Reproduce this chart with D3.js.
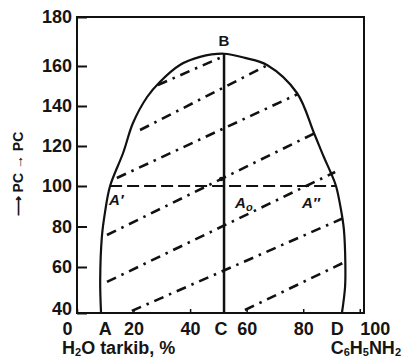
<!DOCTYPE html>
<html>
<head>
<meta charset="utf-8">
<script src="https://cdn.jsdelivr.net/npm/d3@7"></script>
<style>
  body { margin: 0; background: #fff; }
  svg text { font-family: "Liberation Sans", Arial, sans-serif; font-weight: bold; fill: #151515; }
</style>
</head>
<body>
<div id="chart"></div>
<script>
// water / aniline solubility diagram
const xTicks = [0, 20, 40, 60, 80, 100]
const yTicks = [40, 60, 80, 100, 120, 140, 160, 180]

// the dome (left branch -> top -> right branch)
const curveComp = [8.5, 8.2, 8.8, 9.9, 11.7, 16.3, 19.8, 24.8, 29.3, 36.4, 43.5, 52, 59.4, 67.2, 77.8, 83.8, 87.3, 89.8, 91.6, 93.4, 94.4, 94.9, 94.8, 93.7]
const curveTemp = [40, 54, 75, 87, 100, 116.5, 131.5, 144.5, 152, 160.4, 163.7, 165, 163.3, 160.4, 146.5, 126.5, 114.5, 106.5, 100, 88, 78.3, 62, 51.3, 40]

// dash-dot tie lines, [composition, temperature]
const tieStart = [[28.6, 150.5], [22.3, 128], [14.1, 104], [10.6, 75.8], [10.6, 53.5], [19.4, 40.9], [59.4, 41.3]]
const tieEnd   = [[51.3, 163.7], [66.8, 160], [78.1, 146], [84.2, 126.5], [91.3, 107], [94.3, 84.2], [94.8, 62.5]]

const pointNames = ["A", "C", "D"]
const pointComp = [10, 52, 92]
const critComp = 52, critTemp = 165          // B
const splitTemp = 100, splitLeft = 11.7, splitRight = 91.6   // A' ... A''
const dotPoint = [51, 103.5]

document.addEventListener('DOMContentLoaded', function () {
  const W = 402, H = 357

  const svg = d3.select("#chart").append("svg")
    .attr("width", W)
    .attr("height", H)

  const xScale = d3.scaleLinear()
    .domain([0, 101.5])
    .range([77, 364])

  // the scan is a bit stretched near the top, so a few stops
  const yScale = d3.scaleLinear()
    .domain([40, 60, 100, 160, 180])
    .range([313, 267, 186, 66, 17])

  // frame
  svg.append("rect")
    .attr("x", xScale(0)).attr("y", yScale(180))
    .attr("width", xScale(101.5) - xScale(0))
    .attr("height", yScale(40) - yScale(180))
    .attr("fill", "none").attr("stroke", "#111").attr("stroke-width", 2)

  // y axis, ticks point inside
  const yAxis = d3.axisLeft(yScale)
    .tickValues(yTicks)
    .tickSizeInner(-10).tickSizeOuter(0).tickPadding(5)
  const gy = svg.append("g")
    .attr("transform", "translate(" + xScale(0) + ",0)")
    .call(yAxis)
  gy.select(".domain").remove()
  gy.selectAll("line").attr("stroke", "#111").attr("stroke-width", 2)
  gy.selectAll("text").style("font-size", "18px").attr("fill", "#151515")
    .attr("dy", d => d == 40 ? "0.08em" : "0.32em")

  // x axis
  const xAxis = d3.axisBottom(xScale)
    .tickValues(xTicks)
    .tickSizeInner(-4).tickSizeOuter(0).tickPadding(8)
  const gx = svg.append("g")
    .attr("transform", "translate(0," + yScale(40) + ")")
    .call(xAxis)
  gx.select(".domain").remove()
  gx.selectAll("line").attr("stroke", "#111").attr("stroke-width", 1.5)
  gx.selectAll("text").style("font-size", "18px").attr("fill", "#151515")
    .attr("text-anchor", d => d == 0 ? "end" : d == 100 ? "start" : "middle")
    .attr("dx", d => d == 0 ? -5 : 0)
    .attr("dy", "0.76em")

  // A, C, D under the axis
  svg.selectAll(".pname")
    .data(pointNames)
    .enter()
    .append("text")
    .attr("class", "pname")
    .attr("x", (d, i) => xScale(pointComp[i]) - (d == "C" ? 3 : 0))
    .attr("y", yScale(40) + 21.5)
    .attr("text-anchor", "middle")
    .style("font-size", "18px")
    .text(d => d)

  // axis titles
  const t1 = svg.append("text")
    .attr("x", 62).attr("y", 354)
    .style("font-size", "18px")
  t1.append("tspan").text("H")
  t1.append("tspan").text("2").style("font-size", "11px").attr("dy", 2)
  t1.append("tspan").text("O tarkib, %").attr("dy", -2)

  const t2 = svg.append("text")
    .attr("x", 401).attr("y", 354)
    .attr("text-anchor", "end")
    .style("font-size", "18px")
  const parts = [["C", 0], ["6", 1], ["H", 0], ["5", 1], ["NH", 0], ["2", 1]]
  let low = false
  parts.forEach(function (p) {
    const s = t2.append("tspan").text(p[0])
    if (p[1]) { s.style("font-size", "11px"); if (!low) { s.attr("dy", 2); low = true } }
    else if (low) { s.attr("dy", -2); low = false }
  })

  // rotated y title
  svg.append("text")
    .attr("transform", "translate(23," + 174 + ") rotate(-90)")
    .attr("text-anchor", "middle")
    .style("font-size", "14px")
    .text("\u27F6 PC \u2192 PC")

  // dome
  const line = d3.line()
    .x(d => xScale(d[0]))
    .y(d => yScale(d[1]))
    .curve(d3.curveCatmullRom.alpha(0.5))
  svg.append("path")
    .datum(curveComp.map((c, i) => [c, curveTemp[i]]))
    .attr("d", line)
    .attr("fill", "none").attr("stroke", "#111").attr("stroke-width", 2.2)

  // tie lines
  svg.selectAll(".tie")
    .data(tieStart)
    .enter()
    .append("line")
    .attr("class", "tie")
    .attr("x1", d => xScale(d[0])).attr("y1", d => yScale(d[1]))
    .attr("x2", (d, i) => xScale(tieEnd[i][0])).attr("y2", (d, i) => yScale(tieEnd[i][1]))
    .attr("stroke", "#111").attr("stroke-width", 2.6)
    .attr("stroke-dasharray", "10,6,2.5,6")

  // horizontal A' - A''
  svg.append("line")
    .attr("x1", xScale(splitLeft)).attr("x2", xScale(splitRight))
    .attr("y1", yScale(splitTemp)).attr("y2", yScale(splitTemp))
    .attr("stroke", "#111").attr("stroke-width", 2.2)
    .attr("stroke-dasharray", "12,5")

  // vertical C - B
  svg.append("line")
    .attr("x1", xScale(critComp)).attr("x2", xScale(critComp))
    .attr("y1", yScale(40)).attr("y2", yScale(critTemp))
    .attr("stroke", "#111").attr("stroke-width", 2.5)

  svg.append("circle")
    .attr("cx", xScale(dotPoint[0])).attr("cy", yScale(dotPoint[1]))
    .attr("r", 2.2).attr("fill", "#111")

  // B and the A labels
  svg.append("text")
    .attr("x", xScale(critComp)).attr("y", yScale(critTemp) - 8)
    .attr("text-anchor", "middle")
    .style("font-size", "15px")
    .text("B")

  const ly = yScale(splitTemp)
  svg.append("text")
    .attr("x", xScale(splitLeft) - 1).attr("y", ly + 19)
    .style("font-size", "15px").style("font-style", "italic")
    .text("A\u2032")
  const a0 = svg.append("text")
    .attr("x", xScale(critComp) + 11).attr("y", ly + 22)
    .style("font-size", "15px").style("font-style", "italic")
  a0.append("tspan").text("A")
  a0.append("tspan").text("o").style("font-size", "11px").attr("dy", 3)
  svg.append("text")
    .attr("x", xScale(splitRight) - 34).attr("y", ly + 22)
    .style("font-size", "15px").style("font-style", "italic")
    .text("A\u2033")
})
</script>
</body>
</html>
